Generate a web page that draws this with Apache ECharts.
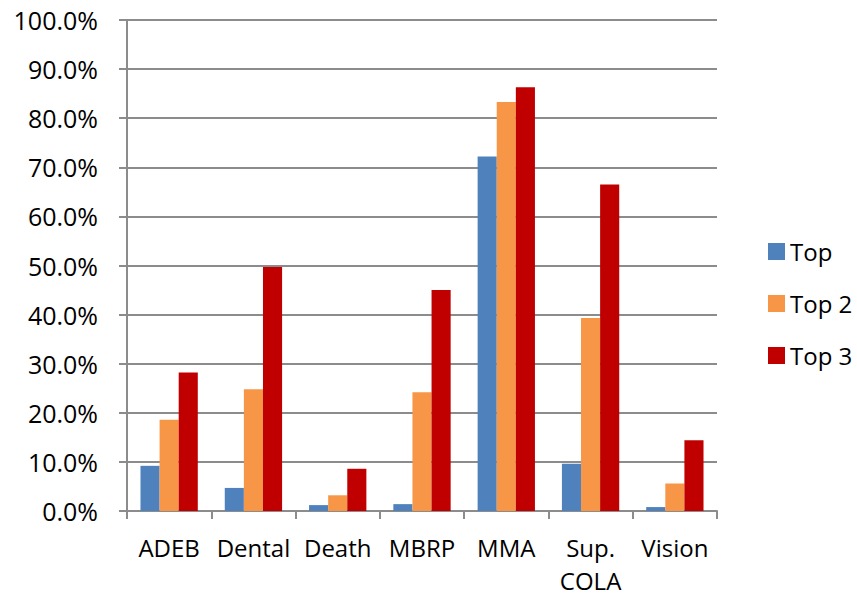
<!DOCTYPE html>
<html>
<head>
<meta charset="utf-8">
<script src="https://cdn.jsdelivr.net/npm/echarts@6/dist/echarts.min.js"></script>
<style>
  html, body { margin: 0; padding: 0; background: #fff; }
  #chart { width: 857px; height: 599px; }
</style>
</head>
<body>
<div id="chart"></div>
<script>
const categories = ['ADEB', 'Dental', 'Death', 'MBRP', 'MMA', 'Sup.\nCOLA', 'Vision'];
const seriesNames = ['Top', 'Top 2', 'Top 3'];
const topValues = [9.2, 4.7, 1.2, 1.4, 72.2, 9.6, 0.8];
const top2Values = [18.6, 24.8, 3.2, 24.2, 83.3, 39.3, 5.6];
const top3Values = [28.2, 49.7, 8.6, 45.0, 86.3, 66.5, 14.4];
const colors = ['#4F81BD', '#F79646', '#C00000'];

const font = 'Open Sans, Noto Sans, sans-serif';
const gridColor = '#8c8c8c';

const chart = echarts.init(document.getElementById('chart'), null, { renderer: 'svg' });

const seriesData = [topValues, top2Values, top3Values];

chart.setOption({
  animation: false,
  color: colors,
  textStyle: { fontFamily: font },
  grid: { left: 127, right: 140, top: 20, bottom: 88, outerBoundsMode: 'none', containLabel: false },
  legend: {
    orient: 'vertical',
    left: 763,
    top: 234,
    itemWidth: 17,
    itemHeight: 17,
    itemGap: 27,
    icon: 'rect',
    textStyle: { fontSize: 24, lineHeight: 25, color: '#000', fontFamily: font },
    data: seriesNames
  },
  xAxis: {
    type: 'category',
    data: categories,
    axisLine: { lineStyle: { color: gridColor, width: 2 } },
    axisTick: { show: true, length: 8, lineStyle: { color: gridColor, width: 2 } },
    axisLabel: { fontSize: 24, color: '#000', margin: 20, lineHeight: 33, interval: 0 }
  },
  yAxis: {
    type: 'value',
    min: 0,
    max: 100,
    interval: 10,
    axisLine: { show: true, lineStyle: { color: gridColor, width: 2 } },
    axisTick: { show: true, length: 8, lineStyle: { color: gridColor, width: 2 } },
    splitLine: { lineStyle: { color: gridColor, width: 2 } },
    axisLabel: {
      fontSize: 25,
      color: '#000',
      margin: 29,
      formatter: v => v.toFixed(1) + '%'
    }
  },
  series: seriesNames.map((name, i) => ({
    name,
    type: 'bar',
    data: seriesData[i],
    barGap: '0%',
    barCategoryGap: '32%',
    itemStyle: { color: colors[i] }
  }))
});
</script>
</body>
</html>
